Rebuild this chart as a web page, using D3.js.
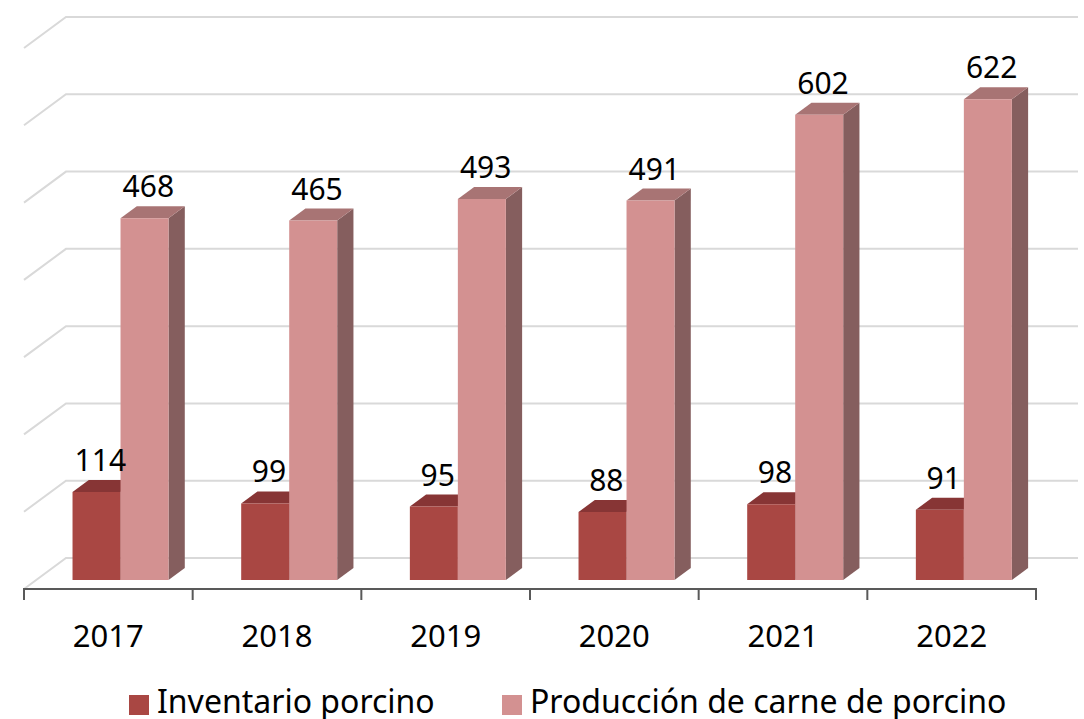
<!DOCTYPE html>
<html>
<head>
<meta charset="utf-8">
<script src="https://cdn.jsdelivr.net/npm/d3@7"></script>
<style>
  body { margin: 0; background: #fff; }
  svg { display: block; font-family: "Noto Sans", "Open Sans", sans-serif; }
</style>
</head>
<body>
<svg id="chart" width="1084" height="719"></svg>
<script>
const years = ["2017", "2018", "2019", "2020", "2021", "2022"];
const inventario = [114, 99, 95, 88, 98, 91];
const produccion = [468, 465, 493, 491, 602, 622];
const seriesNames = ["Inventario porcino", "Producción de carne de porcino"];
const gridValues = [0, 100, 200, 300, 400, 500, 600, 700];

const svg = d3.select("#chart");

// front plane of the floor + depth of the 3d box
const floorY = 589;
const depthX = 42, depthY = 31;
const barZ0 = 9 / 31, barZ1 = 21 / 31;   // bars sit in the middle of the depth

const x = d3.scaleBand().domain(years).range([24, 1036]);
const y = d3.scaleLinear().domain([0, 700]).range([0, 541]);

// project a point (front x, value, depth 0..1) onto the screen
function P(px, v, z) {
  return [px + z * depthX, floorY - y(v) - z * depthY];
}

const colors = {
  inv: { front: "#a94743", top: "#873535", side: "#6f2b2b" },
  prod: { front: "#d39191", top: "#a87474", side: "#855e5e" }
};

/* gridlines: left wall diagonal + back wall */
const grid = svg.append("g").attr("stroke", "#d9d9d9").attr("stroke-width", 2).attr("fill", "none");
grid.selectAll("polyline")
  .data(gridValues)
  .enter()
  .append("polyline")
  .attr("points", v => [P(x.range()[0], v, 0), P(x.range()[0], v, 1), P(x.range()[1], v, 1)].join(" "));

/* category axis */
const axis = svg.append("g").attr("stroke", "#595959").attr("stroke-width", 2);
axis.append("line")
  .attr("x1", x.range()[0] - 1).attr("x2", x.range()[1] + 1)
  .attr("y1", floorY).attr("y2", floorY);
const tickXs = years.map(d => x(d)).concat([x.range()[1]]);
axis.selectAll("line.tick")
  .data(tickXs)
  .enter()
  .append("line")
  .attr("class", "tick")
  .attr("x1", d => d).attr("x2", d => d)
  .attr("y1", floorY).attr("y2", floorY + 11);

svg.append("g").selectAll("text")
  .data(years)
  .enter()
  .append("text")
  .attr("x", d => x(d) + x.bandwidth() / 2)
  .attr("y", 647)
  .attr("text-anchor", "middle")
  .attr("font-size", 31)
  .attr("fill", "#000")
  .text(d => d);

/* 3d bars */
const barW = 48;
const bars = [];
years.forEach((yr, i) => {
  const c = x(yr) + x.bandwidth() / 2;
  bars.push({ x0: c - barW, x1: c, v: inventario[i], col: colors.inv });
  bars.push({ x0: c, x1: c + barW, v: produccion[i], col: colors.prod });
});

const poly = pts => pts.map(p => p.join(",")).join(" ");

const barG = svg.append("g").selectAll("g")
  .data(bars)
  .enter()
  .append("g");

barG.append("polygon")   // right side
  .attr("fill", d => d.col.side)
  .attr("points", d => poly([P(d.x1, 0, barZ0), P(d.x1, 0, barZ1), P(d.x1, d.v, barZ1), P(d.x1, d.v, barZ0)]));

barG.append("polygon")   // top
  .attr("fill", d => d.col.top)
  .attr("points", d => poly([P(d.x0, d.v, barZ0), P(d.x0, d.v, barZ1), P(d.x1, d.v, barZ1), P(d.x1, d.v, barZ0)]));

barG.append("polygon")   // front
  .attr("fill", d => d.col.front)
  .attr("points", d => poly([P(d.x0, 0, barZ0), P(d.x1, 0, barZ0), P(d.x1, d.v, barZ0), P(d.x0, d.v, barZ0)]));

/* value labels */
svg.append("g").selectAll("text")
  .data(bars)
  .enter()
  .append("text")
  .attr("x", d => (d.x0 + d.x1) / 2 + 12 + 4)
  .attr("y", d => P(0, d.v, barZ1)[1] - 9)
  .attr("text-anchor", "middle")
  .attr("font-size", 30)
  .attr("fill", "#000")
  .text(d => d.v);

/* legend */
const legend = svg.append("g");
const legendItems = [
  { name: seriesNames[0], color: colors.inv.front, x: 129 },
  { name: seriesNames[1], color: colors.prod.front, x: 502 }
];
const li = legend.selectAll("g")
  .data(legendItems)
  .enter()
  .append("g")
  .attr("transform", d => `translate(${d.x},695)`);
li.append("rect").attr("width", 20).attr("height", 20).attr("fill", d => d.color);
li.append("text")
  .attr("x", 28).attr("y", 18)
  .attr("font-size", 32)
  .attr("fill", "#000")
  .text(d => d.name);
</script>
</body>
</html>
